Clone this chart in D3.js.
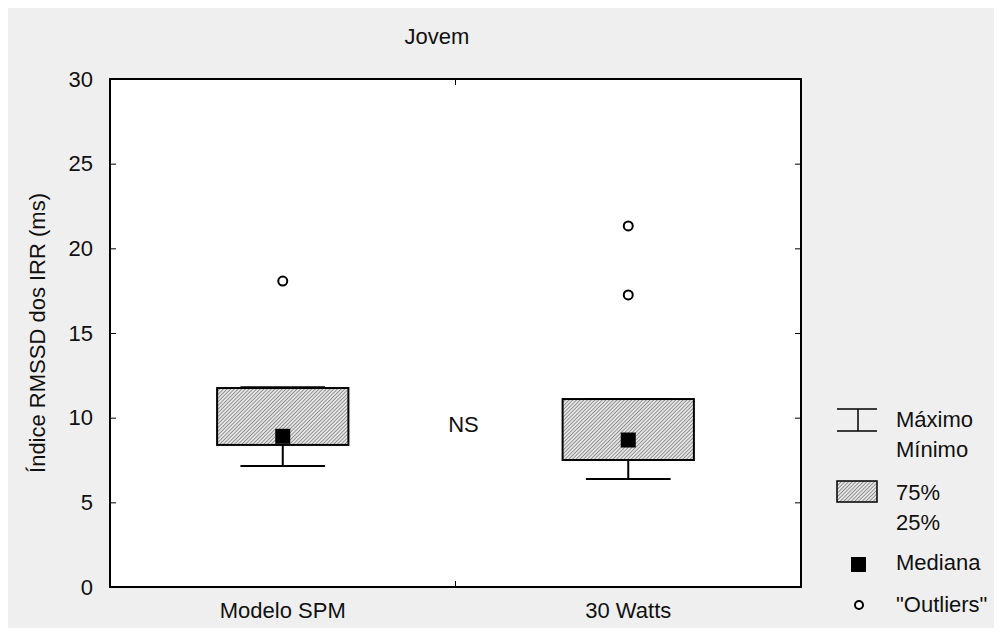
<!DOCTYPE html>
<html>
<head>
<meta charset="utf-8">
<script src="https://cdn.jsdelivr.net/npm/d3@7"></script>
<style>
  body { margin: 0; background: #fff; }
  text { font-family: "Liberation Sans", Arial, sans-serif; fill: #111; }
</style>
</head>
<body>
<div id="chart"></div>
<script>
const categories = ['Modelo SPM', '30 Watts'];
const q1 = [8.39, 7.5];
const q3 = [11.75, 11.1];
const medians = [8.9, 8.68];
const mins = [7.15, 6.38];
const maxs = [11.8, 11.1];
const outliers = [[18.07], [21.32, 17.25]];
const yTicks = [0, 5, 10, 15, 20, 25, 30];
const legendLabels = ['Máximo', 'Mínimo', '75%', '25%', 'Mediana', '"Outliers"'];
const nsLevel = 9.15;

const W = 1002, H = 636;
const margin = { top: 79, left: 110, right: 201, bottom: 49 };
const width = W - margin.left - margin.right;
const height = H - margin.top - margin.bottom;
const fontSize = 22;

const svg = d3.select('#chart').append('svg').attr('width', W).attr('height', H);

// grey panel
svg.append('rect').attr('x', 8).attr('y', 8).attr('width', W - 16).attr('height', H - 16).attr('fill', '#efefef');

// hatch pattern
const defs = svg.append('defs');
const pat = defs.append('pattern')
  .attr('id', 'hatch').attr('patternUnits', 'userSpaceOnUse')
  .attr('width', 2.6).attr('height', 2.6)
  .attr('patternTransform', 'rotate(45)');
pat.append('rect').attr('width', 2.6).attr('height', 2.6).attr('fill', '#e4e4e4');
pat.append('line').attr('x1', 0).attr('y1', 0).attr('x2', 0).attr('y2', 2.6)
  .attr('stroke', '#6e6e6e').attr('stroke-width', 1.3);

const chart = svg.append('g').attr('transform', `translate(${margin.left},${margin.top})`);

const x = d3.scaleBand().domain(categories).range([0, width]);
const y = d3.scaleLinear().domain([0, 30]).range([height, 0]);

chart.append('rect').attr('width', width).attr('height', height).attr('fill', '#fff');

// axes, ticks pointing inward
const yAxis = chart.append('g')
  .call(d3.axisLeft(y).tickValues(yTicks).tickSize(-6).tickPadding(17));
yAxis.selectAll('text').style('font-size', fontSize + 'px');
chart.append('g').attr('transform', `translate(${width},0)`)
  .call(d3.axisRight(y).tickValues(yTicks).tickSize(-6).tickFormat(''));
const xAxis = chart.append('g').attr('transform', `translate(0,${height})`)
  .call(d3.axisBottom(x).tickSize(0).tickPadding(15));
xAxis.selectAll('text').style('font-size', fontSize + 'px');
chart.selectAll('.domain').remove();
chart.selectAll('.tick line').attr('stroke', '#000');

// boundary ticks between categories
const mid = x.step();
chart.append('line').attr('x1', mid).attr('x2', mid).attr('y1', 0).attr('y2', 6).attr('stroke', '#000');
chart.append('line').attr('x1', mid).attr('x2', mid).attr('y1', height).attr('y2', height - 6).attr('stroke', '#000');

const boxW = x.bandwidth() * 0.38;
const whiskW = x.bandwidth() * 0.245;
const medS = 15;

categories.forEach((c, i) => {
  const cx = x(c) + x.bandwidth() / 2;
  const g = chart.append('g');
  // whiskers
  g.append('line').attr('x1', cx).attr('x2', cx).attr('y1', y(q1[i])).attr('y2', y(mins[i]))
    .attr('stroke', '#000').attr('stroke-width', 2);
  g.append('line').attr('x1', cx - whiskW / 2).attr('x2', cx + whiskW / 2)
    .attr('y1', y(mins[i])).attr('y2', y(mins[i])).attr('stroke', '#000').attr('stroke-width', 2);
  g.append('line').attr('x1', cx - whiskW / 2).attr('x2', cx + whiskW / 2)
    .attr('y1', y(maxs[i])).attr('y2', y(maxs[i])).attr('stroke', '#000').attr('stroke-width', 2);
  // box
  g.append('rect').attr('x', cx - boxW / 2).attr('y', y(q3[i]))
    .attr('width', boxW).attr('height', y(q1[i]) - y(q3[i]))
    .attr('fill', 'url(#hatch)').attr('stroke', '#000').attr('stroke-width', 2);
  // median
  g.append('rect').attr('x', cx - medS / 2).attr('y', y(medians[i]) - medS / 2)
    .attr('width', medS).attr('height', medS).attr('fill', '#000');
  // outliers
  g.selectAll('circle').data(outliers[i]).enter().append('circle')
    .attr('cx', cx).attr('cy', d => y(d)).attr('r', 4.5)
    .attr('fill', '#fff').attr('stroke', '#000').attr('stroke-width', 2);
});

// frame
chart.append('rect').attr('width', width).attr('height', height)
  .attr('fill', 'none').attr('stroke', '#000').attr('stroke-width', 2);

// title and annotations
svg.append('text').attr('x', 437).attr('y', 44).attr('text-anchor', 'middle')
  .style('font-size', fontSize + 'px').text('Jovem');
chart.append('text').attr('x', mid + 8).attr('y', y(nsLevel)).attr('text-anchor', 'middle')
  .style('font-size', fontSize + 'px').text('NS');
svg.append('text').attr('transform', `translate(45,${margin.top + height / 2}) rotate(-90)`)
  .attr('text-anchor', 'middle').style('font-size', fontSize + 'px')
  .text('Índice RMSSD dos IRR (ms)');

// legend
const lg = svg.append('g').attr('transform', 'translate(837,0)');
lg.append('line').attr('x1', 0).attr('x2', 40).attr('y1', 409).attr('y2', 409).attr('stroke', '#000').attr('stroke-width', 1.5);
lg.append('line').attr('x1', 0).attr('x2', 40).attr('y1', 431).attr('y2', 431).attr('stroke', '#000').attr('stroke-width', 1.5);
lg.append('line').attr('x1', 21).attr('x2', 21).attr('y1', 409).attr('y2', 431).attr('stroke', '#000').attr('stroke-width', 1.5);
lg.append('rect').attr('x', 0).attr('y', 481).attr('width', 40).attr('height', 21)
  .attr('fill', 'url(#hatch)').attr('stroke', '#000').attr('stroke-width', 1.5);
lg.append('rect').attr('x', 14).attr('y', 557).attr('width', 15).attr('height', 15).attr('fill', '#000');
lg.append('circle').attr('cx', 22).attr('cy', 605).attr('r', 4)
  .attr('fill', '#fff').attr('stroke', '#000').attr('stroke-width', 2);
const legendY = [427, 457, 500, 530, 570, 612];
lg.selectAll('text.lab').data(legendLabels).enter().append('text')
  .attr('class', 'lab').attr('x', 59).attr('y', (d, i) => legendY[i])
  .style('font-size', fontSize + 'px').text(d => d);
</script>
</body>
</html>
